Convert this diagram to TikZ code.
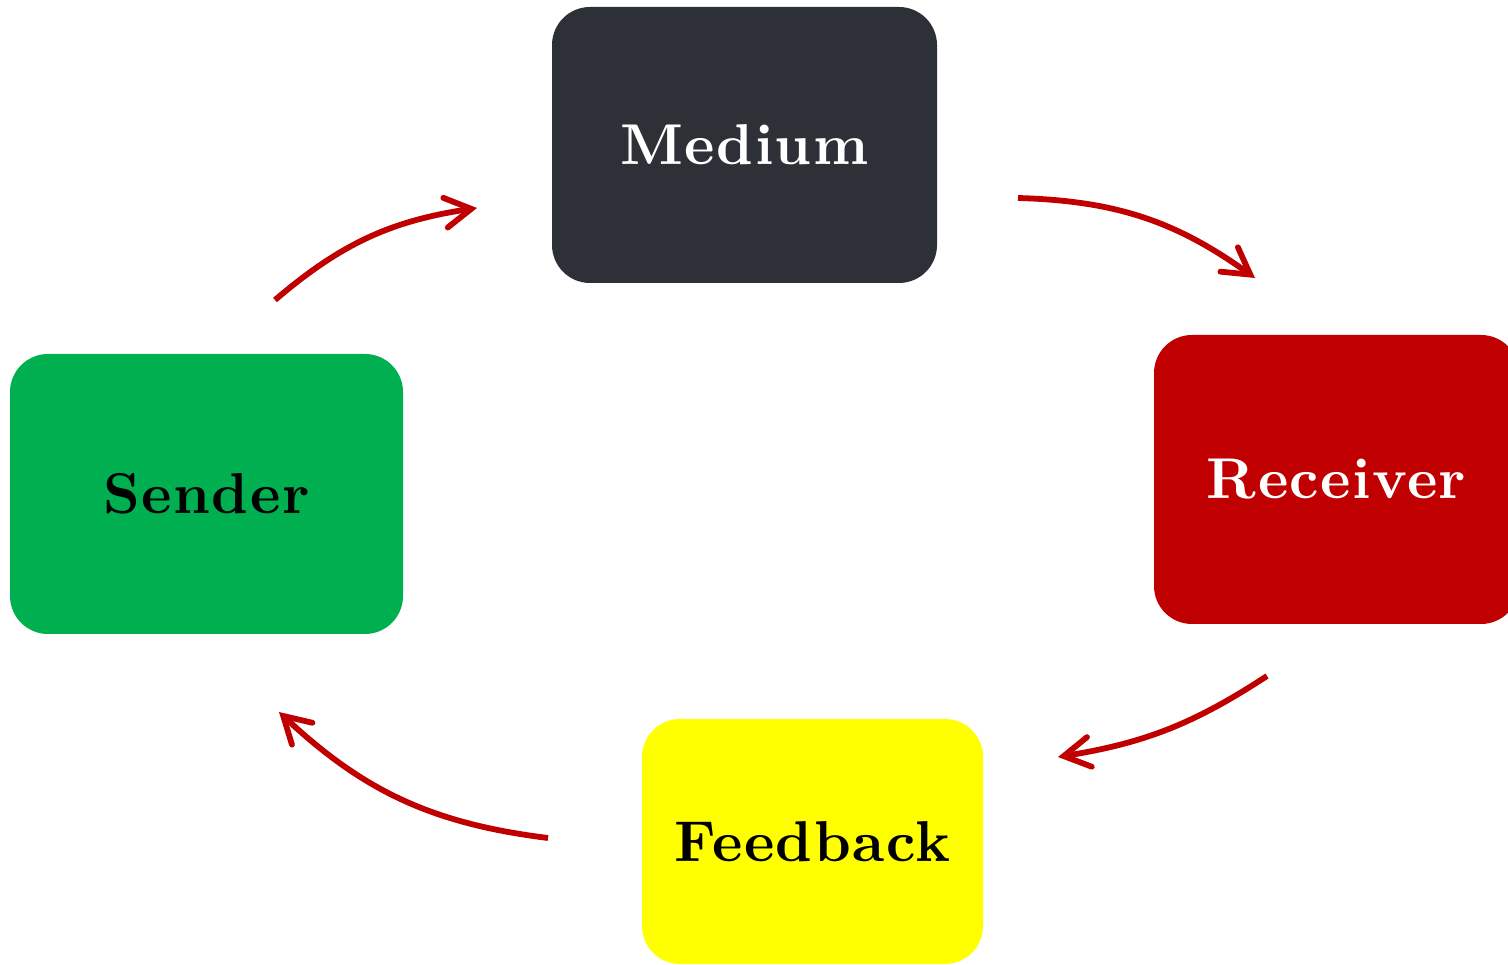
\documentclass[tikz,border=0pt]{standalone}
\usepackage{fontspec}
\newfontfamily\boxfont[LetterSpace=2.5]{lmroman10-bold.otf}
\usetikzlibrary{arrows.meta}
\definecolor{darkbox}{RGB}{46,48,56}
\definecolor{redbox}{RGB}{192,0,0}
\definecolor{greenbox}{RGB}{0,176,80}
\definecolor{yellowbox}{RGB}{255,255,0}
\definecolor{arrowred}{RGB}{192,0,0}
\tikzset{
  box/.style={rounded corners=19pt, inner sep=0pt, font=\fontsize{28.8}{35}\boxfont},
  flow/.style={draw=arrowred, line width=2.9pt, -{Straight Barb[length=13pt,width=15pt,line cap=round]}}
}
\begin{document}
\begin{tikzpicture}[x=0.5pt,y=0.5pt]
\useasboundingbox (0,0) rectangle (1508,964);
\node[box, fill=darkbox, text=white, minimum width=192.5pt, minimum height=138pt] (medium) at (744.5,819) {Medium};
\node[box, fill=greenbox, text=black, minimum width=196.5pt, minimum height=140pt] (sender) at (206.5,470) {Sender};
\node[box, fill=redbox, text=white, minimum width=182.5pt, minimum height=144.5pt] (receiver) at (1336.5,484.5) {Receiver};
\node[box, fill=yellowbox, text=black, minimum width=170.5pt, minimum height=122.5pt] (feedback) at (812.5,122.5) {Feedback};
\coordinate (s1) at (275,664);
\coordinate (e1) at (477,756);
\coordinate (s2) at (1018,766);
\coordinate (e2) at (1255,686);
\coordinate (s3) at (1267,288);
\coordinate (e3) at (1058,207);
\coordinate (s4) at (548,126);
\coordinate (e4) at (279,252);
\draw[flow] (s1) to[bend left=16] (e1);
\draw[flow] (s2) to[bend left=17] (e2);
\draw[flow] (s3) to[bend left=12] (e3);
\draw[flow] (s4) to[bend left=18] (e4);
\end{tikzpicture}
\end{document}
